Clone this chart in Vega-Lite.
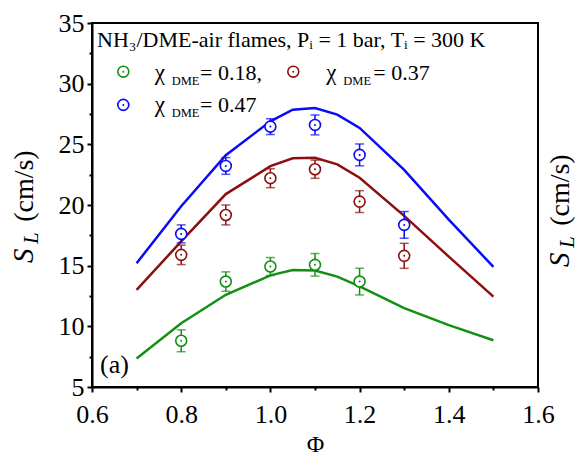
{
  "$schema": "https://vega.github.io/schema/vega-lite/v6.json",
  "width": 446,
  "height": 364,
  "autosize": {"type": "none"},
  "padding": {"left": 92, "top": 23, "right": 41, "bottom": 71},
  "background": "white",
  "config": {
    "view": {"stroke": "black", "strokeWidth": 2},
    "axis": {
      "grid": false,
      "labelFont": "Liberation Serif",
      "labelFontSize": 26,
      "labelColor": "black",
      "domainColor": "black",
      "domainWidth": 2,
      "tickColor": "black",
      "tickWidth": 2,
      "titleFont": "Liberation Serif",
      "titleColor": "black",
      "titleFontWeight": "normal"
    },
    "text": {"font": "Liberation Serif", "color": "black"}
  },
  "datasets": {
    "lines": [
      {"phi": 0.7, "sl": 7.35, "series": "0.18"},
      {"phi": 0.8, "sl": 10.25, "series": "0.18"},
      {"phi": 0.9, "sl": 12.6, "series": "0.18"},
      {"phi": 1.0, "sl": 14.2, "series": "0.18"},
      {"phi": 1.05, "sl": 14.65, "series": "0.18"},
      {"phi": 1.1, "sl": 14.6, "series": "0.18"},
      {"phi": 1.15, "sl": 14.1, "series": "0.18"},
      {"phi": 1.2, "sl": 13.3, "series": "0.18"},
      {"phi": 1.3, "sl": 11.5, "series": "0.18"},
      {"phi": 1.4, "sl": 10.1, "series": "0.18"},
      {"phi": 1.5, "sl": 8.85, "series": "0.18"},
      {"phi": 0.7, "sl": 13.0, "series": "0.37"},
      {"phi": 0.8, "sl": 17.0, "series": "0.37"},
      {"phi": 0.9, "sl": 20.9, "series": "0.37"},
      {"phi": 1.0, "sl": 23.2, "series": "0.37"},
      {"phi": 1.05, "sl": 23.85, "series": "0.37"},
      {"phi": 1.1, "sl": 23.9, "series": "0.37"},
      {"phi": 1.15, "sl": 23.35, "series": "0.37"},
      {"phi": 1.2, "sl": 22.25, "series": "0.37"},
      {"phi": 1.3, "sl": 19.1, "series": "0.37"},
      {"phi": 1.4, "sl": 15.75, "series": "0.37"},
      {"phi": 1.5, "sl": 12.45, "series": "0.37"},
      {"phi": 0.7, "sl": 15.2, "series": "0.47"},
      {"phi": 0.8, "sl": 19.9, "series": "0.47"},
      {"phi": 0.9, "sl": 24.1, "series": "0.47"},
      {"phi": 1.0, "sl": 26.9, "series": "0.47"},
      {"phi": 1.05, "sl": 27.85, "series": "0.47"},
      {"phi": 1.1, "sl": 28.0, "series": "0.47"},
      {"phi": 1.15, "sl": 27.45, "series": "0.47"},
      {"phi": 1.2, "sl": 26.35, "series": "0.47"},
      {"phi": 1.3, "sl": 22.9, "series": "0.47"},
      {"phi": 1.4, "sl": 18.8, "series": "0.47"},
      {"phi": 1.5, "sl": 14.9, "series": "0.47"}
    ],
    "pts": [
      {"phi": 0.8, "sl": 8.81, "lo": 7.91, "hi": 9.71, "series": "0.18"},
      {"phi": 0.9, "sl": 13.69, "lo": 12.89, "hi": 14.49, "series": "0.18"},
      {"phi": 1.0, "sl": 14.93, "lo": 14.19, "hi": 15.67, "series": "0.18"},
      {"phi": 1.1, "sl": 15.07, "lo": 14.14, "hi": 16.0, "series": "0.18"},
      {"phi": 1.2, "sl": 13.69, "lo": 12.59, "hi": 14.79, "series": "0.18"},
      {"phi": 0.8, "sl": 15.89, "lo": 15.09, "hi": 16.69, "series": "0.37"},
      {"phi": 0.9, "sl": 19.18, "lo": 18.36, "hi": 20.0, "series": "0.37"},
      {"phi": 1.0, "sl": 22.21, "lo": 21.43, "hi": 22.99, "series": "0.37"},
      {"phi": 1.1, "sl": 22.95, "lo": 22.2, "hi": 23.7, "series": "0.37"},
      {"phi": 1.2, "sl": 20.28, "lo": 19.38, "hi": 21.18, "series": "0.37"},
      {"phi": 1.3, "sl": 15.81, "lo": 14.78, "hi": 16.84, "series": "0.37"},
      {"phi": 0.8, "sl": 17.62, "lo": 16.88, "hi": 18.36, "series": "0.47"},
      {"phi": 0.9, "sl": 23.22, "lo": 22.53, "hi": 23.91, "series": "0.47"},
      {"phi": 1.0, "sl": 26.46, "lo": 25.81, "hi": 27.11, "series": "0.47"},
      {"phi": 1.1, "sl": 26.6, "lo": 25.78, "hi": 27.42, "series": "0.47"},
      {"phi": 1.2, "sl": 24.13, "lo": 23.23, "hi": 25.03, "series": "0.47"},
      {"phi": 1.3, "sl": 18.36, "lo": 17.26, "hi": 19.46, "series": "0.47"}
    ],
    "legmarks": [
      {"phi": 0.6702, "sl": 30.99, "series": "0.18"},
      {"phi": 1.0513, "sl": 30.99, "series": "0.37"},
      {"phi": 0.6702, "sl": 28.25, "series": "0.47"}
    ],
    "header": [
      {"phi": 0.6112, "sl": 33.02, "label": "NH₃/DME-air flames, Pᵢ = 1 bar, Tᵢ = 300 K"}
    ],
    "chis": [
      {"phi": 0.7405, "sl": 30.3, "label": "χ"},
      {"phi": 1.1253, "sl": 30.3, "label": "χ"},
      {"phi": 0.7405, "sl": 27.69, "label": "χ"}
    ],
    "texts": [
      {"phi": 0.8422, "sl": 30.3, "label": "= 0.18,"},
      {"phi": 1.2307, "sl": 30.3, "label": "= 0.37"},
      {"phi": 0.8422, "sl": 27.69, "label": "= 0.47"}
    ],
    "subs": [
      {"phi": 0.7787, "sl": 29.89, "label": "DME"},
      {"phi": 1.1635, "sl": 29.89, "label": "DME"},
      {"phi": 0.7787, "sl": 27.28, "label": "DME"}
    ],
    "panel": [{"phi": 0.618, "sl": 6.17, "label": "(a)"}],
    "titleS": [
      {"phi": 0.4677, "sl": 15.23, "label": "S"},
      {"phi": 1.6695, "sl": 14.9, "label": "S"}
    ],
    "titleL": [
      {"phi": 0.4787, "sl": 16.79, "label": "L"},
      {"phi": 1.6805, "sl": 16.46, "label": "L"}
    ],
    "titleU": [
      {"phi": 0.4677, "sl": 18.61, "label": "(cm/s)"},
      {"phi": 1.6695, "sl": 18.28, "label": "(cm/s)"}
    ]
  },
  "resolve": {"axis": {"x": "independent", "y": "independent"}},
  "layer": [
    {
      "layer": [
        {
          "data": {"name": "lines"},
          "mark": {"type": "line", "strokeWidth": 2.5},
          "encoding": {
            "x": {
              "field": "phi", "type": "quantitative",
              "scale": {"domain": [0.6, 1.6], "nice": false, "zero": false},
              "axis": {
                "orient": "bottom",
                "values": [0.6, 0.8, 1.0, 1.2, 1.4, 1.6],
                "format": ".1f",
                "tickSize": 5,
                "labelPadding": 9,
                "labelFont": "Liberation Serif",
                "labelFlush": false,
                "labelOverlap": false,
                "title": "Φ",
                "titleFont": "Liberation Serif",
                "titleFontSize": 24,
                "titleBaseline": "alphabetic",
                "titleY": 64
              }
            },
            "y": {
              "field": "sl", "type": "quantitative",
              "scale": {"domain": [5, 35], "nice": false, "zero": false},
              "axis": {
                "orient": "left",
                "values": [5, 10, 15, 20, 25, 30, 35],
                "tickSize": 5,
                "labelPadding": 3,
                "labelFont": "Liberation Serif",
                "labelFlush": false,
                "labelOverlap": false,
                "title": null
              }
            },
            "color": {
              "field": "series", "type": "nominal",
              "scale": {"domain": ["0.18", "0.37", "0.47"], "range": ["#138f13", "#8b0f0f", "#0a0af5"]},
              "legend": null
            },
            "detail": {"field": "series"}
          }
        },
        {
          "data": {"name": "pts"},
          "mark": {"type": "rule", "strokeWidth": 1.5},
          "encoding": {
            "x": {"field": "phi", "type": "quantitative"},
            "y": {"field": "lo", "type": "quantitative"},
            "y2": {"field": "hi"},
            "color": {"field": "series", "type": "nominal"}
          }
        },
        {
          "data": {"name": "pts"},
          "mark": {"type": "tick", "orient": "horizontal", "size": 9, "thickness": 1.5},
          "encoding": {
            "x": {"field": "phi", "type": "quantitative"},
            "y": {"field": "lo", "type": "quantitative"},
            "color": {"field": "series", "type": "nominal"}
          }
        },
        {
          "data": {"name": "pts"},
          "mark": {"type": "tick", "orient": "horizontal", "size": 9, "thickness": 1.5},
          "encoding": {
            "x": {"field": "phi", "type": "quantitative"},
            "y": {"field": "hi", "type": "quantitative"},
            "color": {"field": "series", "type": "nominal"}
          }
        },
        {
          "data": {"name": "pts"},
          "mark": {"type": "point", "shape": "circle", "filled": true, "fill": "white", "size": 120, "strokeWidth": 1.6, "opacity": 1},
          "encoding": {
            "x": {"field": "phi", "type": "quantitative"},
            "y": {"field": "sl", "type": "quantitative"},
            "stroke": {"field": "series", "type": "nominal", "scale": {"domain": ["0.18", "0.37", "0.47"], "range": ["#138f13", "#8b0f0f", "#0a0af5"]}, "legend": null}
          }
        },
        {
          "data": {"name": "pts"},
          "mark": {"type": "point", "shape": "circle", "filled": true, "size": 4, "opacity": 1},
          "encoding": {
            "x": {"field": "phi", "type": "quantitative"},
            "y": {"field": "sl", "type": "quantitative"},
            "color": {"field": "series", "type": "nominal"}
          }
        },
        {
          "data": {"name": "legmarks"},
          "mark": {"type": "point", "shape": "circle", "filled": false, "size": 120, "strokeWidth": 1.6, "opacity": 1},
          "encoding": {
            "x": {"field": "phi", "type": "quantitative"},
            "y": {"field": "sl", "type": "quantitative"},
            "color": {"field": "series", "type": "nominal"}
          }
        },
        {
          "data": {"name": "legmarks"},
          "mark": {"type": "point", "shape": "circle", "filled": true, "size": 4, "opacity": 1},
          "encoding": {
            "x": {"field": "phi", "type": "quantitative"},
            "y": {"field": "sl", "type": "quantitative"},
            "color": {"field": "series", "type": "nominal"}
          }
        },
        {
          "data": {"name": "header"},
          "mark": {"type": "text", "font": "Liberation Serif", "fontSize": 22, "align": "left", "baseline": "alphabetic"},
          "encoding": {
            "x": {"field": "phi", "type": "quantitative"},
            "y": {"field": "sl", "type": "quantitative"},
            "text": {"field": "label"}
          }
        },
        {
          "data": {"name": "chis"},
          "mark": {"type": "text", "font": "Liberation Serif", "fontSize": 23, "align": "left", "baseline": "alphabetic"},
          "encoding": {
            "x": {"field": "phi", "type": "quantitative"},
            "y": {"field": "sl", "type": "quantitative"},
            "text": {"field": "label"}
          }
        },
        {
          "data": {"name": "texts"},
          "mark": {"type": "text", "font": "Liberation Serif", "fontSize": 22, "align": "left", "baseline": "alphabetic"},
          "encoding": {
            "x": {"field": "phi", "type": "quantitative"},
            "y": {"field": "sl", "type": "quantitative"},
            "text": {"field": "label"}
          }
        },
        {
          "data": {"name": "subs"},
          "mark": {"type": "text", "font": "Liberation Serif", "fontSize": 12.5, "align": "left", "baseline": "alphabetic"},
          "encoding": {
            "x": {"field": "phi", "type": "quantitative"},
            "y": {"field": "sl", "type": "quantitative"},
            "text": {"field": "label"}
          }
        },
        {
          "data": {"name": "panel"},
          "mark": {"type": "text", "font": "Liberation Serif", "fontSize": 26, "align": "left", "baseline": "alphabetic"},
          "encoding": {
            "x": {"field": "phi", "type": "quantitative"},
            "y": {"field": "sl", "type": "quantitative"},
            "text": {"field": "label"}
          }
        },
        {
          "data": {"name": "titleS"},
          "mark": {"type": "text", "font": "Liberation Serif", "fontSize": 29, "fontStyle": "italic", "angle": 270, "align": "left", "baseline": "alphabetic"},
          "encoding": {
            "x": {"field": "phi", "type": "quantitative"},
            "y": {"field": "sl", "type": "quantitative"},
            "text": {"field": "label"}
          }
        },
        {
          "data": {"name": "titleL"},
          "mark": {"type": "text", "font": "Liberation Serif", "fontSize": 21, "fontStyle": "italic", "angle": 270, "align": "left", "baseline": "alphabetic"},
          "encoding": {
            "x": {"field": "phi", "type": "quantitative"},
            "y": {"field": "sl", "type": "quantitative"},
            "text": {"field": "label"}
          }
        },
        {
          "data": {"name": "titleU"},
          "mark": {"type": "text", "font": "Liberation Serif", "fontSize": 28, "angle": 270, "align": "left", "baseline": "alphabetic"},
          "encoding": {
            "x": {"field": "phi", "type": "quantitative"},
            "y": {"field": "sl", "type": "quantitative"},
            "text": {"field": "label"}
          }
        }
      ]
    },
    {
      "data": {"name": "lines"},
      "mark": {"type": "point", "opacity": 0},
      "encoding": {
        "x": {
          "field": "phi", "type": "quantitative",
          "scale": {"domain": [0.6, 1.6], "nice": false, "zero": false},
          "axis": {"orient": "bottom", "values": [0.7, 0.9, 1.1, 1.3, 1.5], "tickSize": 3, "labels": false, "domain": false, "title": null}
        },
        "y": {
          "field": "sl", "type": "quantitative",
          "scale": {"domain": [5, 35], "nice": false, "zero": false},
          "axis": {"orient": "left", "values": [7.5, 12.5, 17.5, 22.5, 27.5, 32.5], "tickSize": 3, "labels": false, "domain": false, "title": null}
        }
      }
    }
  ]
}
